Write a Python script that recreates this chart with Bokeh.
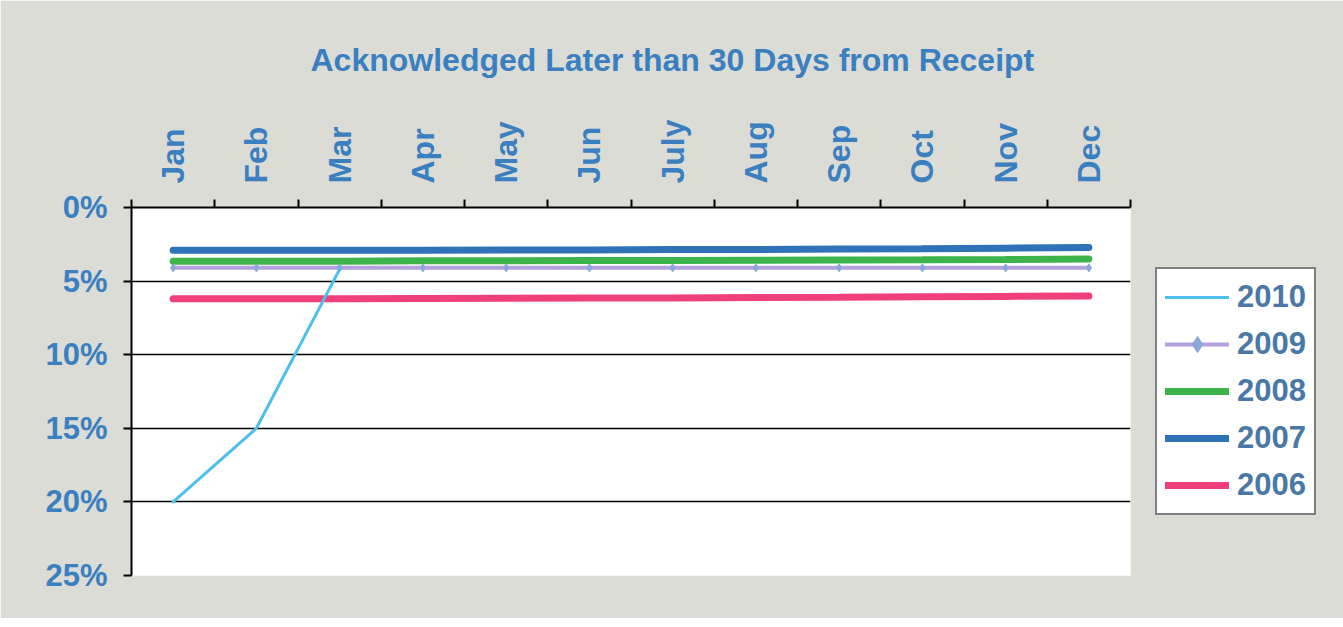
from bokeh.plotting import figure
from bokeh.models import Range1d, FixedTicker, Legend, LegendItem, Title
from bokeh.embed import file_html
from bokeh.resources import INLINE
import math

months = ["Jan", "Feb", "Mar", "Apr", "May", "Jun", "July", "Aug", "Sep", "Oct", "Nov", "Dec"]
pct_ticks = [0, 5, 10, 15, 20, 25]

s2010 = [20.0, 15.0, 4.2]
s2009 = [4.1, 4.1, 4.1, 4.1, 4.1, 4.1, 4.1, 4.1, 4.1, 4.1, 4.1, 4.1]
s2008 = [3.65, 3.65, 3.65, 3.62, 3.62, 3.6, 3.6, 3.58, 3.56, 3.55, 3.53, 3.5]
s2007 = [2.9, 2.9, 2.9, 2.9, 2.88, 2.88, 2.86, 2.85, 2.82, 2.8, 2.76, 2.72]
s2006 = [6.2, 6.2, 6.2, 6.18, 6.16, 6.15, 6.14, 6.12, 6.1, 6.07, 6.04, 6.02]

BLUE = "#3a7fc0"
FONT = "Liberation Sans"

xs = [i + 0.5 for i in range(len(months))]

p = figure(frame_width=999, frame_height=368, output_backend="svg", toolbar_location=None,
           x_range=Range1d(0, len(months)), y_range=Range1d(25, 0),
           x_axis_location="above", min_border_left=131, min_border_right=203,
           min_border_top=0, min_border_bottom=43)
p.border_fill_color = "#dcdcd6"
p.background_fill_color = "white"
p.outline_line_color = None

# title
t = Title(text="Acknowledged Later than 30 Days from Receipt", align="left",
          text_font=FONT, text_font_size="32px", text_font_style="bold",
          text_color=BLUE, offset=179, standoff=78)
p.add_layout(t, "above")

# x axis (top)
xa = p.xaxis[0]
xa.ticker = FixedTicker(ticks=xs, minor_ticks=list(range(len(months) + 1)))
xa.major_label_overrides = {x: m for x, m in zip(xs, months)}
xa.major_label_orientation = math.pi / 2
xa.major_tick_out = 0
xa.major_tick_in = 0
xa.minor_tick_out = 8
xa.minor_tick_in = 0
xa.minor_tick_line_color = "black"
xa.minor_tick_line_width = 2
xa.axis_line_color = "black"
xa.axis_line_width = 2
xa.major_label_standoff = 16
xa.major_label_text_font = FONT
xa.major_label_text_font_size = "32px"
xa.major_label_text_font_style = "bold"
xa.major_label_text_color = BLUE

# y axis
ya = p.yaxis[0]
ya.ticker = FixedTicker(ticks=pct_ticks)
ya.major_label_overrides = {v: f"{v}%" for v in pct_ticks}
ya.major_tick_out = 8
ya.major_tick_in = 0
ya.major_tick_line_width = 2
ya.minor_tick_line_color = None
ya.axis_line_color = "black"
ya.axis_line_width = 2
ya.major_label_standoff = 16
ya.major_label_text_font = FONT
ya.major_label_text_font_size = "31px"
ya.major_label_text_font_style = "bold"
ya.major_label_text_color = BLUE

p.xgrid.grid_line_color = None
p.ygrid.ticker = FixedTicker(ticks=pct_ticks[1:])
p.ygrid.grid_line_color = "black"
p.ygrid.grid_line_width = 1.6

r2006 = p.line(xs, s2006, line_color="#f0407a", line_width=7, line_cap="round")
r2007 = p.line(xs, s2007, line_color="#2f72b8", line_width=7, line_cap="round")
r2008 = p.line(xs, s2008, line_color="#3cb44a", line_width=7, line_cap="round")
r2009 = p.line(xs, s2009, line_color="#b3a2dc", line_width=4, line_cap="round")
r2009m = p.scatter(xs, s2009, marker="diamond", size=8, fill_color="#8aa8d8",
                   line_color="#8aa8d8")
r2010 = p.line(xs[:len(s2010)], s2010, line_color="#4cc0ea", line_width=3, line_cap="round")

legend = Legend(items=[
    LegendItem(label="2010", renderers=[r2010]),
    LegendItem(label="2009", renderers=[r2009, r2009m]),
    LegendItem(label="2008", renderers=[r2008]),
    LegendItem(label="2007", renderers=[r2007]),
    LegendItem(label="2006", renderers=[r2006]),
], location="center_left", orientation="vertical")
legend.label_text_font = FONT
legend.label_text_font_size = "31px"
legend.label_text_font_style = "bold"
legend.label_text_color = "#4a78a6"
legend.glyph_width = 64
legend.glyph_height = 40
legend.label_height = 40
legend.spacing = 7
legend.padding = 8
legend.label_standoff = 8
legend.margin = 25
legend.border_line_color = "black"
legend.border_line_width = 2
legend.background_fill_color = "white"
legend.background_fill_alpha = 1
p.add_layout(legend, "right")

open("out.html", "w").write(file_html(p, INLINE))
